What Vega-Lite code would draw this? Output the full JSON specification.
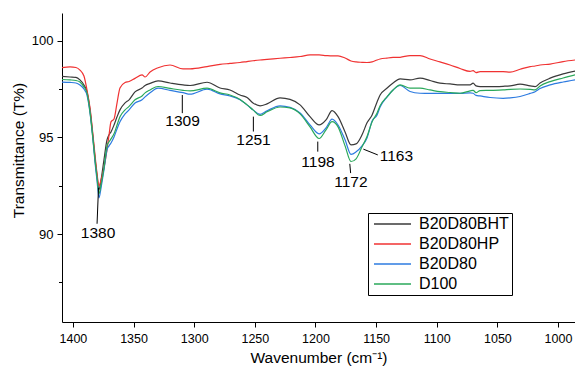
{
  "$schema": "https://vega.github.io/schema/vega-lite/v6.json",
  "width": 513,
  "height": 309,
  "autosize": {"type": "none"},
  "padding": {"left": 62, "top": 13, "right": 0, "bottom": 50},
  "background": "white",
  "config": {
    "view": {"stroke": null},
    "font": "Liberation Sans",
    "axis": {
      "grid": false,
      "domainColor": "black",
      "domainWidth": 1,
      "tickColor": "black",
      "tickWidth": 1,
      "labelColor": "black",
      "titleColor": "black",
      "labelFont": "Liberation Sans",
      "titleFont": "Liberation Sans",
      "titleFontWeight": "normal",
      "labelFlush": false,
      "labelOverlap": false
    }
  },
  "layer": [
    {
      "data": {
        "values": [
          {"w": 1409.0, "B20D80BHT": 98.15, "B20D80HP": 98.61, "B20D80": 97.86, "D100": 97.99},
          {"w": 1402.4, "B20D80BHT": 98.12, "B20D80HP": 98.64, "B20D80": 97.84, "D100": 97.97},
          {"w": 1397.5, "B20D80BHT": 98.10, "B20D80HP": 98.61, "B20D80": 97.81, "D100": 97.94},
          {"w": 1394.2, "B20D80BHT": 97.97, "B20D80HP": 98.48, "B20D80": 97.71, "D100": 97.86},
          {"w": 1390.9, "B20D80BHT": 97.71, "B20D80HP": 98.17, "B20D80": 97.50, "D100": 97.61},
          {"w": 1388.4, "B20D80BHT": 97.35, "B20D80HP": 97.45, "B20D80": 97.19, "D100": 97.30},
          {"w": 1385.9, "B20D80BHT": 96.42, "B20D80HP": 96.52, "B20D80": 96.26, "D100": 96.32},
          {"w": 1383.4, "B20D80BHT": 94.97, "B20D80HP": 95.08, "B20D80": 94.82, "D100": 94.87},
          {"w": 1381.8, "B20D80BHT": 93.94, "B20D80HP": 94.09, "B20D80": 93.73, "D100": 93.84},
          {"w": 1380.1, "B20D80BHT": 93.01, "B20D80HP": 93.11, "B20D80": 92.75, "D100": 92.91},
          {"w": 1378.5, "B20D80BHT": 92.29, "B20D80HP": 92.49, "B20D80": 91.87, "D100": 92.08},
          {"w": 1376.8, "B20D80BHT": 92.80, "B20D80HP": 92.80, "B20D80": 92.39, "D100": 92.55},
          {"w": 1374.4, "B20D80BHT": 93.84, "B20D80HP": 93.42, "B20D80": 93.32, "D100": 93.42},
          {"w": 1371.9, "B20D80BHT": 94.87, "B20D80HP": 94.35, "B20D80": 94.35, "D100": 94.56},
          {"w": 1370.2, "B20D80BHT": 95.13, "B20D80HP": 95.13, "B20D80": 94.56, "D100": 94.77},
          {"w": 1368.6, "B20D80BHT": 95.28, "B20D80HP": 95.80, "B20D80": 94.71, "D100": 94.92},
          {"w": 1366.1, "B20D80BHT": 95.64, "B20D80HP": 95.95, "B20D80": 95.02, "D100": 95.18},
          {"w": 1363.6, "B20D80BHT": 96.06, "B20D80HP": 96.78, "B20D80": 95.44, "D100": 95.64},
          {"w": 1361.2, "B20D80BHT": 96.42, "B20D80HP": 97.55, "B20D80": 95.80, "D100": 96.06},
          {"w": 1357.0, "B20D80BHT": 96.78, "B20D80HP": 97.84, "B20D80": 96.21, "D100": 96.42},
          {"w": 1353.7, "B20D80BHT": 96.94, "B20D80HP": 97.89, "B20D80": 96.42, "D100": 96.60},
          {"w": 1348.8, "B20D80BHT": 97.35, "B20D80HP": 98.05, "B20D80": 96.78, "D100": 96.94},
          {"w": 1343.0, "B20D80BHT": 97.55, "B20D80HP": 98.23, "B20D80": 96.94, "D100": 97.14},
          {"w": 1340.5, "B20D80BHT": 97.68, "B20D80HP": 98.12, "B20D80": 97.09, "D100": 97.30},
          {"w": 1336.4, "B20D80BHT": 97.79, "B20D80HP": 98.38, "B20D80": 97.30, "D100": 97.45},
          {"w": 1329.8, "B20D80BHT": 97.92, "B20D80HP": 98.60, "B20D80": 97.54, "D100": 97.63},
          {"w": 1319.9, "B20D80BHT": 97.81, "B20D80HP": 98.74, "B20D80": 97.43, "D100": 97.53},
          {"w": 1309.2, "B20D80BHT": 97.71, "B20D80HP": 98.54, "B20D80": 97.31, "D100": 97.43},
          {"w": 1303.4, "B20D80BHT": 97.68, "B20D80HP": 98.54, "B20D80": 97.23, "D100": 97.40},
          {"w": 1289.4, "B20D80BHT": 97.85, "B20D80HP": 98.66, "B20D80": 97.49, "D100": 97.54},
          {"w": 1278.7, "B20D80BHT": 97.55, "B20D80HP": 98.77, "B20D80": 97.25, "D100": 97.30},
          {"w": 1270.5, "B20D80BHT": 97.45, "B20D80HP": 98.82, "B20D80": 97.14, "D100": 97.19},
          {"w": 1262.2, "B20D80BHT": 97.19, "B20D80HP": 98.87, "B20D80": 96.94, "D100": 96.96},
          {"w": 1256.4, "B20D80BHT": 97.06, "B20D80HP": 98.92, "B20D80": 96.68, "D100": 96.68},
          {"w": 1251.5, "B20D80BHT": 96.78, "B20D80HP": 98.96, "B20D80": 96.42, "D100": 96.42},
          {"w": 1245.7, "B20D80BHT": 96.63, "B20D80HP": 99.00, "B20D80": 96.19, "D100": 96.13},
          {"w": 1239.9, "B20D80BHT": 96.73, "B20D80HP": 99.03, "B20D80": 96.37, "D100": 96.32},
          {"w": 1229.2, "B20D80BHT": 97.04, "B20D80HP": 99.09, "B20D80": 96.63, "D100": 96.57},
          {"w": 1221.0, "B20D80BHT": 96.96, "B20D80HP": 99.13, "B20D80": 96.55, "D100": 96.52},
          {"w": 1212.7, "B20D80BHT": 96.68, "B20D80HP": 99.18, "B20D80": 96.26, "D100": 96.21},
          {"w": 1204.5, "B20D80BHT": 96.07, "B20D80HP": 99.26, "B20D80": 95.64, "D100": 95.54},
          {"w": 1197.0, "B20D80BHT": 95.64, "B20D80HP": 99.26, "B20D80": 95.18, "D100": 94.94},
          {"w": 1191.3, "B20D80BHT": 95.90, "B20D80HP": 99.23, "B20D80": 95.49, "D100": 95.39},
          {"w": 1186.3, "B20D80BHT": 96.38, "B20D80HP": 99.21, "B20D80": 95.94, "D100": 95.81},
          {"w": 1181.4, "B20D80BHT": 96.07, "B20D80HP": 99.21, "B20D80": 95.64, "D100": 95.54},
          {"w": 1175.6, "B20D80BHT": 95.28, "B20D80HP": 99.10, "B20D80": 94.87, "D100": 94.56},
          {"w": 1170.7, "B20D80BHT": 94.61, "B20D80HP": 98.95, "B20D80": 94.12, "D100": 93.75},
          {"w": 1166.5, "B20D80BHT": 94.66, "B20D80HP": 98.90, "B20D80": 94.25, "D100": 93.89},
          {"w": 1161.6, "B20D80BHT": 95.13, "B20D80HP": 98.88, "B20D80": 94.56, "D100": 94.51},
          {"w": 1157.5, "B20D80BHT": 95.75, "B20D80HP": 98.87, "B20D80": 94.97, "D100": 95.04},
          {"w": 1153.3, "B20D80BHT": 96.16, "B20D80HP": 98.90, "B20D80": 95.85, "D100": 95.80},
          {"w": 1149.2, "B20D80BHT": 96.83, "B20D80HP": 99.00, "B20D80": 96.16, "D100": 96.26},
          {"w": 1146.7, "B20D80BHT": 97.19, "B20D80HP": 99.05, "B20D80": 96.57, "D100": 96.63},
          {"w": 1140.9, "B20D80BHT": 97.55, "B20D80HP": 99.10, "B20D80": 97.09, "D100": 97.11},
          {"w": 1136.0, "B20D80BHT": 97.81, "B20D80HP": 99.13, "B20D80": 97.45, "D100": 97.45},
          {"w": 1130.2, "B20D80BHT": 98.02, "B20D80HP": 99.14, "B20D80": 97.68, "D100": 97.71},
          {"w": 1122.0, "B20D80BHT": 97.97, "B20D80HP": 99.23, "B20D80": 97.37, "D100": 97.54},
          {"w": 1113.8, "B20D80BHT": 98.06, "B20D80HP": 99.23, "B20D80": 97.28, "D100": 97.54},
          {"w": 1105.5, "B20D80BHT": 97.94, "B20D80HP": 99.05, "B20D80": 97.27, "D100": 97.45},
          {"w": 1097.3, "B20D80BHT": 97.80, "B20D80HP": 98.90, "B20D80": 97.27, "D100": 97.36},
          {"w": 1089.0, "B20D80BHT": 97.76, "B20D80HP": 98.74, "B20D80": 97.27, "D100": 97.32},
          {"w": 1080.8, "B20D80BHT": 97.71, "B20D80HP": 98.56, "B20D80": 97.27, "D100": 97.28},
          {"w": 1072.5, "B20D80BHT": 97.71, "B20D80HP": 98.41, "B20D80": 97.30, "D100": 97.40},
          {"w": 1070.0, "B20D80BHT": 97.80, "B20D80HP": 98.45, "B20D80": 97.28, "D100": 97.43},
          {"w": 1067.6, "B20D80BHT": 97.66, "B20D80HP": 98.35, "B20D80": 97.17, "D100": 97.31},
          {"w": 1064.3, "B20D80BHT": 97.62, "B20D80HP": 98.40, "B20D80": 97.14, "D100": 97.42},
          {"w": 1056.0, "B20D80BHT": 97.62, "B20D80HP": 98.40, "B20D80": 97.06, "D100": 97.43},
          {"w": 1045.3, "B20D80BHT": 97.64, "B20D80HP": 98.40, "B20D80": 97.02, "D100": 97.45},
          {"w": 1039.5, "B20D80BHT": 97.66, "B20D80HP": 98.37, "B20D80": 97.04, "D100": 97.48},
          {"w": 1031.3, "B20D80BHT": 97.75, "B20D80HP": 98.52, "B20D80": 97.11, "D100": 97.50},
          {"w": 1023.0, "B20D80BHT": 97.66, "B20D80HP": 98.66, "B20D80": 97.27, "D100": 97.48},
          {"w": 1018.9, "B20D80BHT": 97.62, "B20D80HP": 98.69, "B20D80": 97.36, "D100": 97.45},
          {"w": 1014.8, "B20D80BHT": 97.81, "B20D80HP": 98.74, "B20D80": 97.53, "D100": 97.66},
          {"w": 1006.5, "B20D80BHT": 98.06, "B20D80HP": 98.79, "B20D80": 97.71, "D100": 97.88},
          {"w": 995.8, "B20D80BHT": 98.28, "B20D80HP": 98.92, "B20D80": 97.86, "D100": 98.07},
          {"w": 985.9, "B20D80BHT": 98.43, "B20D80HP": 99.00, "B20D80": 97.97, "D100": 98.23}
        ]
      },
      "transform": [
        {"fold": ["B20D80BHT", "B20D80HP", "B20D80", "D100"], "as": ["series", "t"]}
      ],
      "mark": {"type": "line", "strokeWidth": 1.2, "interpolate": "monotone"},
      "encoding": {
        "x": {
          "field": "w",
          "type": "quantitative",
          "scale": {"domain": [986, 1409], "reverse": true, "nice": false, "zero": false},
          "axis": {
            "values": [1400, 1375, 1350, 1325, 1300, 1275, 1250, 1225, 1200, 1175, 1150, 1125, 1100, 1075, 1050, 1025, 1000],
            "format": "d",
            "labelExpr": "datum.value % 50 === 0 ? datum.label : ''",
            "tickSize": {"condition": {"test": "datum.value % 50 === 0", "value": 5}, "value": 3.5},
            "labelPadding": 5,
            "labelFontSize": 12.5,
            "title": "Wavenumber (cm⁻¹)",
            "titleFontSize": 15.5,
            "titleY": 35,
            "titleBaseline": "middle"
          }
        },
        "y": {
          "field": "t",
          "type": "quantitative",
          "scale": {"domain": [85.45, 101.43], "nice": false, "zero": false},
          "axis": {
            "values": [87.5, 90, 92.5, 95, 97.5, 100],
            "labelExpr": "datum.value % 5 === 0 ? datum.label : ''",
            "tickSize": {"condition": {"test": "datum.value % 5 === 0", "value": 5}, "value": 3.5},
            "labelPadding": 4,
            "labelFontSize": 13,
            "title": "Transmittance (T%)",
            "titleFontSize": 15.5,
            "titleX": -44,
            "titleY": 137,
            "titleBaseline": "middle"
          }
        },
        "color": {
          "field": "series",
          "type": "nominal",
          "scale": {
            "domain": ["B20D80BHT", "B20D80HP", "B20D80", "D100"],
            "range": ["#3a3a3a", "#f03232", "#2d7be0", "#2aa85a"]
          },
          "legend": {
            "orient": "none",
            "legendX": 306,
            "legendY": 200,
            "title": null,
            "symbolType": "M-1,0H6.4",
            "symbolSize": 100,
            "symbolStrokeWidth": 1.5,
            "labelFontSize": 16,
            "labelFont": "Liberation Sans",
            "labelColor": "black",
            "labelOffset": 32,
            "strokeColor": "black",
            "padding": 3,
            "rowPadding": 4
          }
        }
      }
    },
    {
      "data": {
        "values": [
          {"w": 1378.9, "t": 92.39, "w2": 1380.1, "t2": 90.53},
          {"w": 1309.8, "t": 97.19, "w2": 1309.8, "t2": 96.25},
          {"w": 1251.2, "t": 96.07, "w2": 1251.2, "t2": 95.30},
          {"w": 1198.1, "t": 94.78, "w2": 1198.1, "t2": 94.26},
          {"w": 1171.7, "t": 93.63, "w2": 1171.0, "t2": 93.15},
          {"w": 1160.5, "t": 94.39, "w2": 1148.6, "t2": 94.09}
        ]
      },
      "mark": {"type": "rule", "color": "black", "strokeWidth": 1},
      "encoding": {
        "x": {"field": "w", "type": "quantitative"},
        "y": {"field": "t", "type": "quantitative"},
        "x2": {"field": "w2"},
        "y2": {"field": "t2"}
      }
    },
    {
      "data": {
        "values": [
          {"label": "1380", "w": 1379.3, "t": 90.07},
          {"label": "1309", "w": 1309.6, "t": 95.82},
          {"label": "1251", "w": 1251.1, "t": 94.87},
          {"label": "1198", "w": 1197.9, "t": 93.71},
          {"label": "1172", "w": 1170.8, "t": 92.67},
          {"label": "1163", "w": 1133.3, "t": 94.04}
        ]
      },
      "mark": {"type": "text", "font": "Liberation Sans", "fontSize": 15.5, "color": "black", "align": "center", "baseline": "middle"},
      "encoding": {
        "x": {"field": "w", "type": "quantitative"},
        "y": {"field": "t", "type": "quantitative"},
        "text": {"field": "label"}
      }
    }
  ]
}
